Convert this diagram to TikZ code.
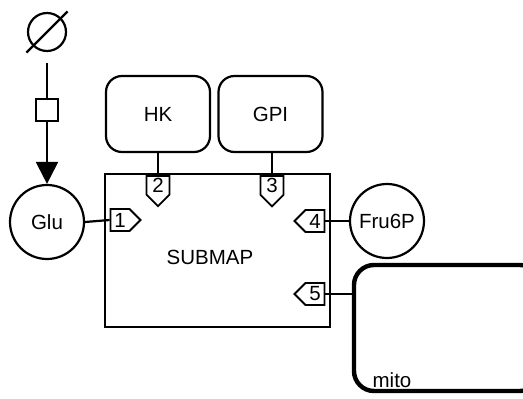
\documentclass[tikz,border=0pt]{standalone}
\usepackage{fontspec}
\setmainfont{Liberation Sans}
\usetikzlibrary{shapes.symbols, arrows.meta}
\tikzset{
	species/.style={circle, draw, line width=2.2pt, minimum size=74pt, inner sep=0pt},
	macromol/.style={rectangle, draw, rounded corners=16pt, line width=2.2pt, minimum width=104pt, minimum height=76pt},
	porttag/.style={signal, draw, line width=1.8pt, inner sep=0pt},
	tagh/.style={porttag, minimum width=30pt, minimum height=22pt},
	tagv/.style={porttag, signal to=south, minimum width=23pt, inner ysep=2.2pt},
	submapbox/.style={rectangle, draw, line width=2.2pt, minimum width=225pt, minimum height=153pt},
	compart/.style={rectangle, draw, rounded corners=20pt, line width=4.4pt, minimum width=186pt, minimum height=126pt},
	procbox/.style={rectangle, draw, line width=2.2pt, minimum size=22pt, inner sep=0pt},
	arc/.style={line width=2.2pt}
}
\begin{document}
\begin{tikzpicture}[x=1pt, y=-1pt, font=\fontsize{20.5}{24}\selectfont]
	\clip (0,0) rectangle (523,399);
	% source, process and Glu
	\node[circle, draw, line width=2.2pt, minimum size=38pt, inner sep=0pt] (empty) at (47,32) {};
	\draw[arc] (empty.center) ++(225:29pt) -- ++(45:58pt);
	\node[procbox] (proc) at (47,110) {};
	\node[species] (glu) at (47,222) {Glu};
	\draw[arc, shorten <=11pt] (empty) -- (proc);
	\draw[arc, -{Triangle[width=22pt, length=22pt]}] (proc) -- (glu);
	% the submap and its tags
	\node[submapbox] (submap) at (217.5,250.5) {};
	\node (submaplbl) at (210,257) {SUBMAP};
	\node[tagh, signal to=east] (tag1) at (120,220) {1};
	\node[tagv, anchor=north] (tag2) at (158,175) {2};
	\node[tagv, anchor=north] (tag3) at (272,175) {3};
	\node[tagh, signal to=west] (tag4) at (315,221) {4};
	\node[tagh, signal to=west] (tag5) at (315,294) {5};
	% the nodes round it
	\node[macromol] (hk) at (158,114) {HK};
	\node[macromol] (gpi) at (270.5,114) {GPI};
	\node[species] (fru) at (387,221) {Fru6P};
	\node[compart] (mito) at (447,328) {};
	\node (mitolbl) at (392,380) {mito};
	\draw[arc] (glu.east) -- (tag1.west);
	\draw[arc] (hk.south) -- (tag2.north);
	\draw[arc] (tag3.north) -- (tag3.north |- gpi.south);
	\draw[arc] (tag4.east) -- (fru.west);
	\draw[arc] (tag5.east) -- (tag5.east -| mito.west);
\end{tikzpicture}
\end{document}
